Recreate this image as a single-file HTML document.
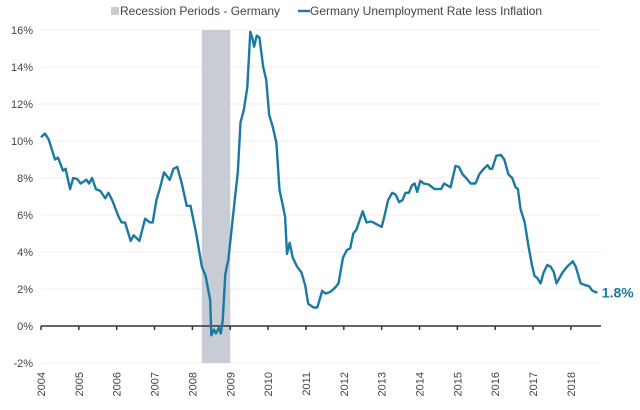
<!DOCTYPE html>
<html><head><meta charset="utf-8"><style>
body{margin:0;background:#fff;}
svg{display:block;font-family:"Liberation Sans",sans-serif;}
</style></head><body>
<svg id="chart" width="640" height="410" viewBox="0 0 640 410"></svg>
<script>
const yearTicks=[2004,2005,2006,2007,2008,2009,2010,2011,2012,2013,2014,2015,2016,2017,2018];
const yTicks=[-2,0,2,4,6,8,10,12,14,16];
const recession=[2008.25,2009.0];
const dates=[2004.0,2004.1,2004.2,2004.37,2004.45,2004.58,2004.65,2004.77,2004.85,2004.95,2005.05,2005.2,2005.27,2005.35,2005.45,2005.57,2005.7,2005.78,2005.88,2006.05,2006.13,2006.22,2006.37,2006.45,2006.6,2006.75,2006.88,2006.95,2007.05,2007.15,2007.25,2007.4,2007.5,2007.6,2007.72,2007.85,2007.95,2008.1,2008.25,2008.35,2008.47,2008.5,2008.57,2008.62,2008.7,2008.75,2008.8,2008.87,2008.95,2009.08,2009.2,2009.27,2009.36,2009.45,2009.53,2009.58,2009.63,2009.7,2009.77,2009.87,2009.95,2010.03,2010.12,2010.22,2010.3,2010.38,2010.45,2010.5,2010.57,2010.65,2010.77,2010.88,2010.98,2011.06,2011.2,2011.3,2011.43,2011.52,2011.65,2011.78,2011.86,2011.98,2012.08,2012.17,2012.25,2012.33,2012.5,2012.6,2012.73,2012.87,2013.0,2013.08,2013.17,2013.28,2013.37,2013.46,2013.55,2013.63,2013.72,2013.8,2013.87,2013.94,2014.02,2014.11,2014.24,2014.4,2014.57,2014.65,2014.82,2014.95,2015.04,2015.14,2015.23,2015.35,2015.48,2015.58,2015.7,2015.8,2015.86,2015.92,2016.03,2016.15,2016.24,2016.35,2016.45,2016.54,2016.6,2016.67,2016.78,2016.88,2016.97,2017.04,2017.11,2017.2,2017.28,2017.38,2017.47,2017.55,2017.62,2017.7,2017.78,2017.9,2018.05,2018.13,2018.26,2018.39,2018.48,2018.57,2018.7,2018.79];
const values=[10.2,10.4,10.1,9.0,9.1,8.4,8.5,7.4,8.0,7.95,7.7,7.9,7.7,8.0,7.4,7.3,6.9,7.2,6.8,5.9,5.6,5.6,4.6,4.9,4.6,5.8,5.6,5.6,6.8,7.5,8.3,7.9,8.5,8.6,7.7,6.5,6.5,5.0,3.2,2.7,1.4,-0.5,-0.2,-0.4,-0.1,-0.4,0.3,2.8,3.6,6.1,8.3,11.0,11.7,12.9,15.9,15.6,15.1,15.7,15.6,14.0,13.3,11.4,10.8,9.9,7.35,6.6,5.9,3.9,4.5,3.7,3.2,2.9,2.2,1.2,1.0,1.0,1.9,1.75,1.85,2.1,2.3,3.7,4.1,4.2,5.0,5.2,6.2,5.6,5.65,5.5,5.35,6.0,6.8,7.2,7.1,6.7,6.8,7.2,7.2,7.6,7.7,7.25,7.85,7.7,7.65,7.4,7.4,7.7,7.5,8.65,8.6,8.2,8.0,7.7,7.7,8.2,8.5,8.7,8.5,8.5,9.2,9.25,9.0,8.2,8.0,7.5,7.4,6.3,5.6,4.3,3.3,2.7,2.6,2.3,2.9,3.3,3.2,2.9,2.3,2.6,2.9,3.2,3.5,3.2,2.3,2.2,2.15,1.9,1.8];
const lastLabel="1.8%";

const NS="http://www.w3.org/2000/svg";
const svg=document.getElementById('chart');
const X=y=>41+(y-2004)*37.85;
const Y=v=>326-v*18.5;
function mk(t,a,p){const e=document.createElementNS(NS,t);for(const k in a)e.setAttribute(k,a[k]);(p||svg).appendChild(e);return e;}

// gridlines + y labels
yTicks.forEach(v=>{
  if(v!==0){const g=mk('line',{x1:41,x2:601,y1:Y(v),y2:Y(v),stroke:'#ececec','stroke-width':1});
  
  }
  const t=mk('text',{x:33,y:Y(v)+4,'text-anchor':'end','font-size':11,fill:'#444'});
  t.textContent=v+'%';
  
  
});
// recession band
const r=mk('rect',{x:X(recession[0]),y:Y(16),width:X(recession[1])-X(recession[0]),height:Y(-2)-Y(16),fill:'#c8ccd4'});


// zero axis
const ax=mk('line',{x1:41,x2:601,y1:Y(0),y2:Y(0),stroke:'#333','stroke-width':1.5});


yearTicks.forEach(yr=>{
  const tk=mk('line',{x1:X(yr),x2:X(yr),y1:Y(0),y2:Y(0)+4,stroke:'#333','stroke-width':1.5});
  
  
  const t=mk('text',{x:0,y:0,'text-anchor':'end','font-size':11,fill:'#444',transform:`translate(${X(yr)+4},372) rotate(-90)`});
  t.textContent=yr;
  
  
});
// line
const d=dates.map((x,i)=>(i?'L':'M')+X(x).toFixed(1)+','+Y(values[i]).toFixed(1)).join('');
const p=mk('path',{d:d,fill:'none',stroke:'#1a7aa3','stroke-width':2.4,'stroke-linejoin':'round'});


const ll=mk('text',{x:X(dates[dates.length-1])+1,y:Y(values[values.length-1])+5,'font-size':14,fill:'#1a7aa3','font-weight':'bold'});
ll.textContent=lastLabel;


// legend
const lg=mk('g',{});


const s1=mk('rect',{x:111,y:7,width:8,height:8,fill:'#c8ccd4'},lg);


const t1=mk('text',{x:120,y:15,'font-size':12,fill:'#444'},lg);
t1.textContent='Recession Periods - Germany';


const s2=mk('line',{x1:298,x2:310,y1:11,y2:11,stroke:'#1a7aa3','stroke-width':2.4},lg);


const t2=mk('text',{x:310,y:15,'font-size':12,fill:'#444'},lg);
t2.textContent='Germany Unemployment Rate less Inflation';


</script>
</body></html>
